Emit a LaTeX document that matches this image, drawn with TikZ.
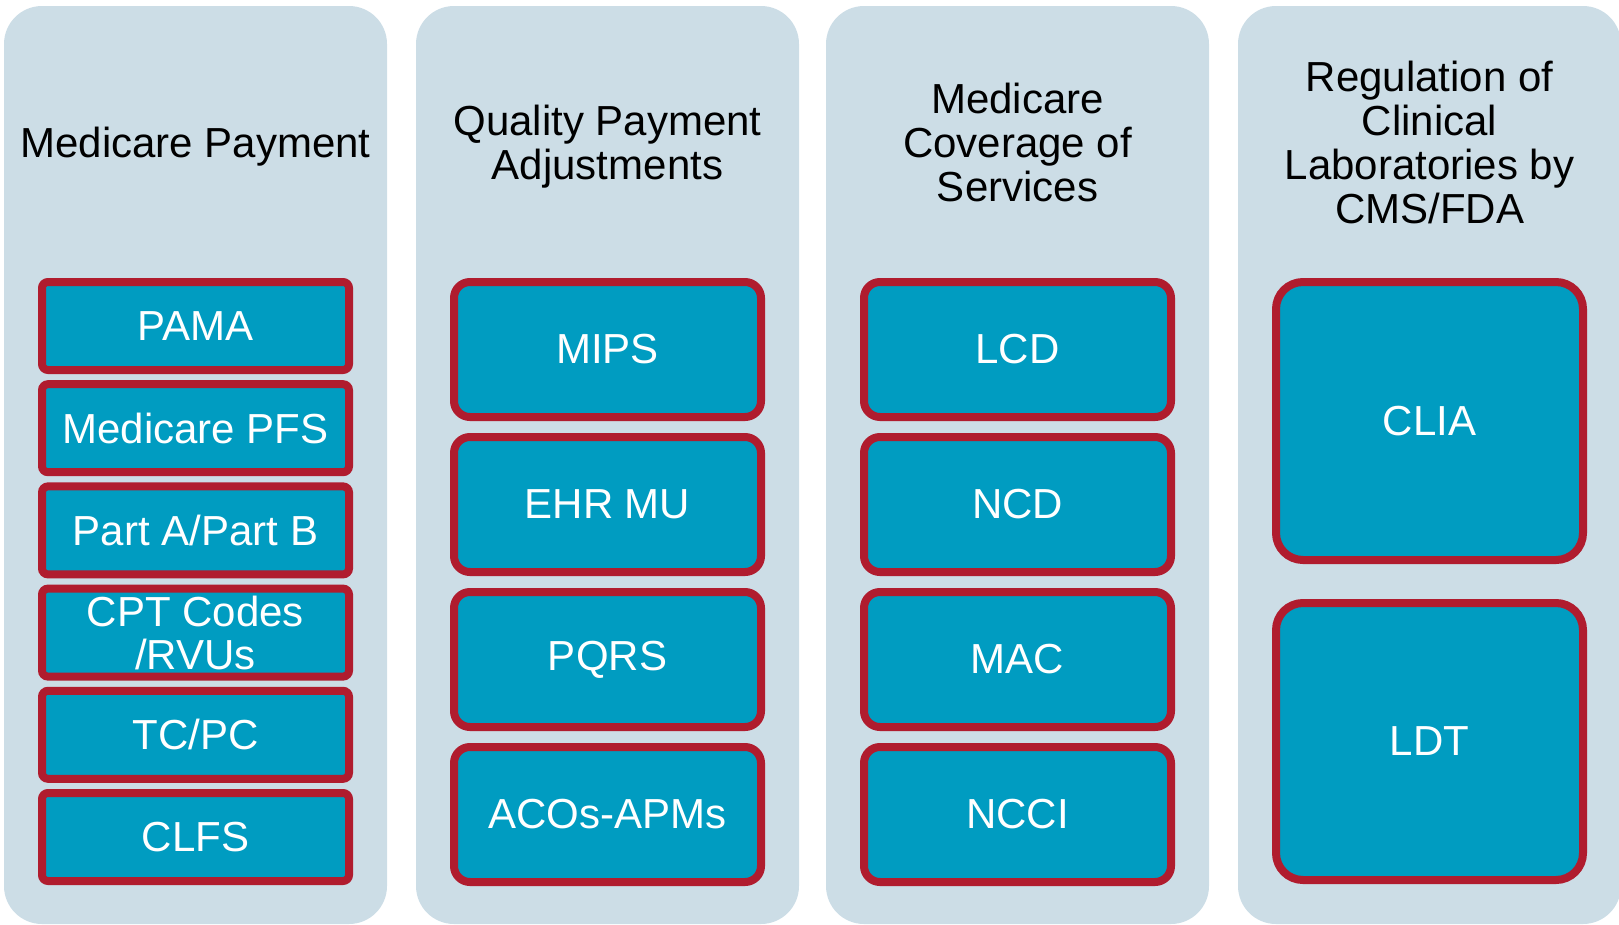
\documentclass[tikz,border=0pt]{standalone}
\usepackage{fontspec}
\setmainfont{Liberation Sans}
\definecolor{panelc}{RGB}{204,221,230}
\definecolor{boxc}{RGB}{0,156,193}
\definecolor{edgec}{RGB}{176,28,46}
\newcommand\tstrut{\rule[-12pt]{0pt}{44pt}}
\begin{document}
\begin{tikzpicture}[x=1pt,y=-1pt,
  panel/.style={fill=panelc, draw=none, rounded corners=38pt},
  item/.style={draw=edgec, fill=boxc, line width=8pt, text=white,
    font=\fontsize{42}{43}\selectfont, align=center, inner sep=0pt,
    minimum width=307pt},
  small/.style={item, rounded corners=6pt, minimum height=88pt},
  mid/.style={item, rounded corners=16pt, minimum height=135pt},
  big/.style={item, rounded corners=27pt},
  title/.style={font=\fontsize{42}{44}\selectfont, align=center, inner sep=0pt, text=black}]
\useasboundingbox (0,0) rectangle (1619,924);
% panels
\fill[panel] (4,6) rectangle (387,924);
\fill[panel] (416,6) rectangle (799,924);
\fill[panel] (826,6) rectangle (1209,924);
\fill[panel] (1238,6) rectangle (1621,924);
% titles
\node[title] (t1) at (195.5,147) {\tstrut Medicare Payment};
\node[title] (t2) at (607.5,147) {\tstrut Quality Payment\\\tstrut Adjustments};
\node[title] (t3) at (1017.5,147) {\tstrut Medicare\\\tstrut Coverage of\\\tstrut Services};
\node[title] (t4) at (1429.5,147) {\tstrut Regulation of\\\tstrut Clinical\\\tstrut Laboratories by\\\tstrut CMS/FDA};
% column 1
\node[small] (pama) at (195.5,326) {PAMA};
\node[small] (pfs) at (195.5,428.2) {Medicare PFS};
\node[small] (pab) at (195.5,530.4) {Part A/Part B};
\node[small, font=\fontsize{42}{43}\selectfont] (cpt) at (195.5,632.6) {CPT Codes\\/RVUs};
\node[small] (tcpc) at (195.5,734.8) {TC/PC};
\node[small] (clfs) at (195.5,837) {CLFS};
% column 2
\node[mid] (mips) at (607.5,349.5) {MIPS};
\node[mid] (ehr) at (607.5,504.5) {EHR MU};
\node[mid] (pqrs) at (607.5,659.5) {PQRS};
\node[mid] (aco) at (607.5,814.5) {ACOs-APMs};
% column 3
\node[mid] (lcd) at (1017.5,349.5) {LCD};
\node[mid] (ncd) at (1017.5,504.5) {NCD};
\node[mid] (mac) at (1017.5,659.5) {MAC};
\node[mid] (ncci) at (1017.5,814.5) {NCCI};
% column 4
\node[big, minimum height=278pt] (clia) at (1429.5,421) {CLIA};
\node[big, minimum height=277pt] (ldt) at (1429.5,741.5) {LDT};
\end{tikzpicture}
\end{document}
